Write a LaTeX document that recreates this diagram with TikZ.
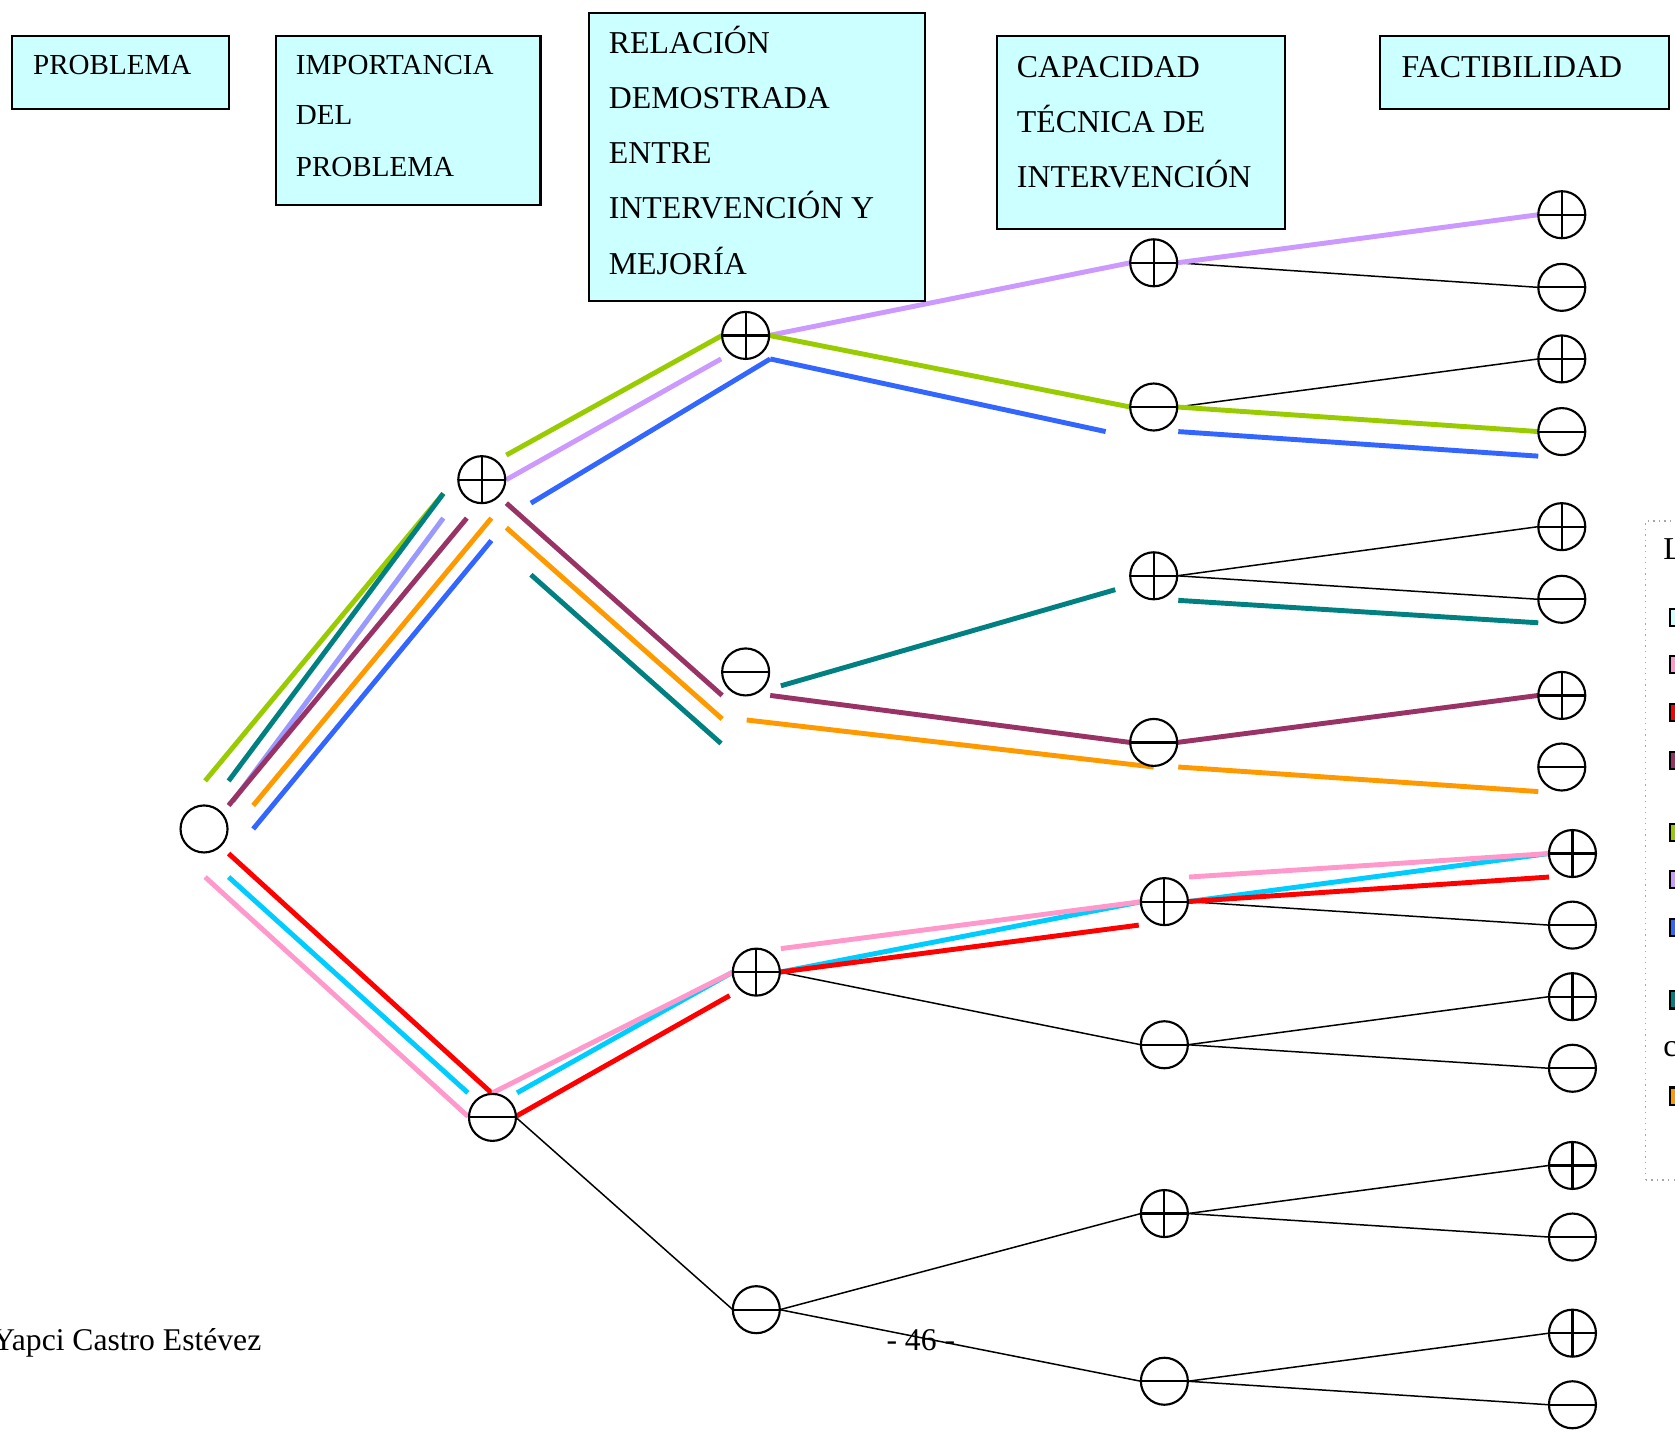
\documentclass[tikz,border=0pt]{standalone}
\usepackage{fontspec}
\setmainfont{Liberation Serif}
\usetikzlibrary{calc}
\pgfdeclarelayer{bg}
\pgfsetlayers{bg,main}
\definecolor{boxcyan}{HTML}{CCFFFF}
\definecolor{cgreen}{HTML}{99CC00}
\definecolor{cteal}{HTML}{008080}
\definecolor{cperi}{HTML}{9999FF}
\definecolor{clav}{HTML}{CC99FF}
\definecolor{cplum}{HTML}{993366}
\definecolor{corange}{HTML}{FF9900}
\definecolor{cblue}{HTML}{3366FF}
\definecolor{cred}{HTML}{FF0000}
\definecolor{ccyan}{HTML}{00CCFF}
\definecolor{cpink}{HTML}{FF99CC}
\tikzset{
  hdr/.style={draw=black, line width=1pt, fill=boxcyan, rectangle, inner sep=0pt, outer sep=0pt, anchor=north west},
  fsa/.style={font=\fontsize{13.6}{16}\selectfont},
  fsb/.style={font=\fontsize{14.9}{17}\selectfont},
  lbl/.style={anchor=base west, inner sep=0pt, outer sep=0pt},
  rootnode/.style={circle, draw=black, line width=1pt, fill=white, minimum size=22pt, inner sep=0pt, outer sep=0pt},
  plusnode/.style={rootnode, path picture={\draw[line width=1pt] (path picture bounding box.west) -- (path picture bounding box.east) (path picture bounding box.north) -- (path picture bounding box.south);}},
  minusnode/.style={rootnode, path picture={\draw[line width=1pt] (path picture bounding box.west) -- (path picture bounding box.east);}},
  thinline/.style={draw=black, line width=0.7pt},
  seg/.style={line width=2.3pt},
  legsq/.style={draw=black, line width=1pt, rectangle, minimum width=8pt, minimum height=8pt, inner sep=0pt, anchor=north west}
}
\begin{document}
\begin{tikzpicture}[x=0.5pt,y=-0.5pt]
\useasboundingbox (0,0) rectangle (1568,1340);

% header boxes
\node[hdr, minimum width=101.6pt, minimum height=34pt] (b1) at (11,34) {};
\node[hdr, minimum width=124pt, minimum height=79pt] (b2) at (258,34) {};
\node[hdr, minimum width=157.5pt, minimum height=135pt] (b3) at (551,12) {};
\node[hdr, minimum width=135pt, minimum height=90pt] (b4) at (933,34) {};
\node[hdr, minimum width=135pt, minimum height=34pt] (b5) at (1292,34) {};

\node[lbl, fsa] (t1) at (31,70) {PROBLEMA};
\node[lbl, fsa] (t2a) at (277,70) {IMPORTANCIA};
\node[lbl, fsa] (t2b) at (277,117) {DEL};
\node[lbl, fsa] (t2c) at (277,165) {PROBLEMA};
\node[lbl, fsb] (t3a) at (570,50) {RELACIÓN};
\node[lbl, fsb] (t3b) at (570,101.5) {DEMOSTRADA};
\node[lbl, fsb] (t3c) at (570,153) {ENTRE};
\node[lbl, fsb] (t3d) at (570,205) {INTERVENCIÓN Y};
\node[lbl, fsb] (t3e) at (570,256.5) {MEJORÍA};
\node[lbl, fsb] (t4a) at (952,72.5) {CAPACIDAD};
\node[lbl, fsb] (t4b) at (952,124) {TÉCNICA DE};
\node[lbl, fsb] (t4c) at (952,175.5) {INTERVENCIÓN};
\node[lbl, fsb] (t5) at (1312,72.5) {FACTIBILIDAD};

% tree nodes
\node[rootnode] (R) at (191,776) {};
\node[plusnode] (A) at (451,449) {};
\node[minusnode] (B) at (461,1046) {};
\node[plusnode] (C) at (698,314) {};
\node[minusnode] (D) at (698,629) {};
\node[plusnode] (E) at (708,910) {};
\node[minusnode] (F) at (708,1226) {};
\node[plusnode] (G1) at (1080,246) {};
\node[minusnode] (G2) at (1080,381) {};
\node[plusnode] (G3) at (1080,539) {};
\node[minusnode] (G4) at (1080,695) {};
\node[plusnode] (G5) at (1090,844) {};
\node[minusnode] (G6) at (1090,978) {};
\node[plusnode] (G7) at (1090,1136) {};
\node[minusnode] (G8) at (1090,1293) {};
\node[plusnode] (H1) at (1462,201) {};
\node[minusnode] (H2) at (1462,269) {};
\node[plusnode] (H3) at (1462,336) {};
\node[minusnode] (H4) at (1462,404) {};
\node[plusnode] (H5) at (1462,493) {};
\node[minusnode] (H6) at (1462,561) {};
\node[plusnode] (H7) at (1462,651) {};
\node[minusnode] (H8) at (1462,718) {};
\node[plusnode] (H9) at (1472,799) {};
\node[minusnode] (H10) at (1472,866) {};
\node[plusnode] (H11) at (1472,933) {};
\node[minusnode] (H12) at (1472,1000) {};
\node[plusnode] (H13) at (1472,1091) {};
\node[minusnode] (H14) at (1472,1158) {};
\node[plusnode] (H15) at (1472,1248) {};
\node[minusnode] (H16) at (1472,1315) {};

\begin{pgfonlayer}{bg}
% thin black connectors
\draw[thinline] (G1.east) -- (H2.west);
\draw[thinline] (G2.east) -- (H3.west);
\draw[thinline] (G3.east) -- (H5.west);
\draw[thinline] (G3.east) -- (H6.west);
\draw[thinline] (G5.east) -- (H10.west);
\draw[thinline] (E.east) -- (G6.west);
\draw[thinline] (G6.east) -- (H11.west);
\draw[thinline] (G6.east) -- (H12.west);
\draw[thinline] (B.east) -- (F.west);
\draw[thinline] (F.east) -- (G7.west);
\draw[thinline] (F.east) -- (G8.west);
\draw[thinline] (G7.east) -- (H13.west);
\draw[thinline] (G7.east) -- (H14.west);
\draw[thinline] (G8.east) -- (H15.west);
\draw[thinline] (G8.east) -- (H16.west);

% root -> A
\draw[seg, cgreen] ($(R)+(1,-45)$) -- ($(A)+(-36,13)$);
\draw[seg, cteal] ($(R)+(23,-45)$) -- ($(A)+(-36,13)$);
\draw[seg, cperi] ($(R)+(27,-26)$) -- ($(A)+(-36,36)$);
\draw[seg, cplum] ($(R)+(23,-22)$) -- ($(A)+(-14,36)$);
\draw[seg, corange] ($(R)+(46,-22)$) -- ($(A)+(9,36)$);
\draw[seg, cblue] ($(R)+(46,0)$) -- ($(A)+(9,57)$);

% root -> B
\draw[seg, cred] ($(R)+(23,23)$) -- ($(B)+(-1,-23)$);
\draw[seg, ccyan] ($(R)+(23,45)$) -- ($(B)+(-23,-23)$);
\draw[seg, cpink] ($(R)+(1,45)$) -- ($(B)+(-23,-1)$);

% B -> E -> G5 -> H9
\draw[seg, ccyan] ($(B)+(23,-23)$) -- ($(E)+(-22,0)$);
\draw[seg, cred] ($(B)+(22,-1)$) -- ($(E)+(-25,22)$);
\draw[seg, cpink] ($(B)+(0,-23)$) -- ($(E)+(-22,0)$);
\draw[seg, ccyan] ($(E)+(22,0)$) -- ($(G5)+(-21,0)$);
\draw[seg, cred] ($(E)+(22,0)$) -- ($(G5)+(-24,22)$);
\draw[seg, cpink] ($(E)+(23,-22)$) -- ($(G5)+(-21,0)$);
\draw[seg, ccyan] ($(G5)+(22,0)$) -- ($(H9)+(-22,0)$);
\draw[seg, cred] ($(G5)+(22,0)$) -- ($(H9)+(-22,22)$);
\draw[seg, cpink] ($(G5)+(23,-23)$) -- ($(H9)+(-22,0)$);

% A -> C and onwards
\draw[seg, cgreen] ($(A)+(23,-23)$) -- ($(C)+(-22,0)$);
\draw[seg, clav] ($(A)+(23,0)$) -- ($(C)+(-23,22)$);
\draw[seg, cblue] ($(A)+(46,22)$) -- ($(C)+(23,22)$);
\draw[seg, clav] ($(C)+(22,0)$) -- ($(G1)+(-22,0)$);
\draw[seg, clav] ($(G1)+(22,0)$) -- ($(H1)+(-22,0)$);
\draw[seg, cgreen] ($(C)+(22,0)$) -- ($(G2)+(-22,0)$);
\draw[seg, cgreen] ($(G2)+(22,0)$) -- ($(H4)+(-22,0)$);
\draw[seg, cblue] ($(C)+(23,22)$) -- ($(G2)+(-45,23)$);
\draw[seg, cblue] ($(G2)+(23,23)$) -- ($(H4)+(-22,23)$);

% A -> D and onwards
\draw[seg, cplum] ($(A)+(23,22)$) -- ($(D)+(-22,22)$);
\draw[seg, corange] ($(A)+(23,45)$) -- ($(D)+(-22,44)$);
\draw[seg, cteal] ($(A)+(46,89)$) -- ($(D)+(-23,67)$);
\draw[seg, cteal] ($(D)+(33,13)$) -- ($(G3)+(-36,13)$);
\draw[seg, cteal] ($(G3)+(23,23)$) -- ($(H6)+(-22,22)$);
\draw[seg, cplum] ($(D)+(23,22)$) -- ($(G4)+(-22,0)$);
\draw[seg, cplum] ($(G4)+(22,0)$) -- ($(H7)+(-22,0)$);
\draw[seg, corange] ($(D)+(1,45)$) -- ($(G4)+(0,23)$);
\draw[seg, corange] ($(G4)+(23,23)$) -- ($(H8)+(-22,23)$);
\end{pgfonlayer}

% legend (cut at the right edge)
\node[draw=gray!70, dotted, line width=0.6pt, rectangle, anchor=north west, minimum width=100pt, minimum height=308.5pt, inner sep=0pt] (leg) at (1540,487) {};
\node[lbl, fsb] (legL) at (1557,524) {L};
\node[legsq, fill=boxcyan] (s1) at (1562,569) {};
\node[legsq, fill=cpink] (s2) at (1562,613) {};
\node[legsq, fill=cred] (s3) at (1562,658) {};
\node[legsq, fill=cplum] (s4) at (1562,703) {};
\node[legsq, fill=cgreen] (s5) at (1562,770) {};
\node[legsq, fill=clav] (s6) at (1562,814) {};
\node[legsq, fill=cblue] (s7) at (1562,859) {};
\node[legsq, fill=cteal] (s8) at (1562,927) {};
\node[lbl, fsb] (legc) at (1557,989) {c};
\node[legsq, fill=corange] (s9) at (1562,1017) {};

% footer
\node[anchor=base east, inner sep=0pt, font=\fontsize{14.8}{17}\selectfont] (auth) at (245,1264) {Yapci Castro Estévez};
\node[anchor=base, inner sep=0pt, font=\fontsize{14.8}{17}\selectfont] (pg) at (862,1264) {- 46 -};
\end{tikzpicture}
\end{document}
